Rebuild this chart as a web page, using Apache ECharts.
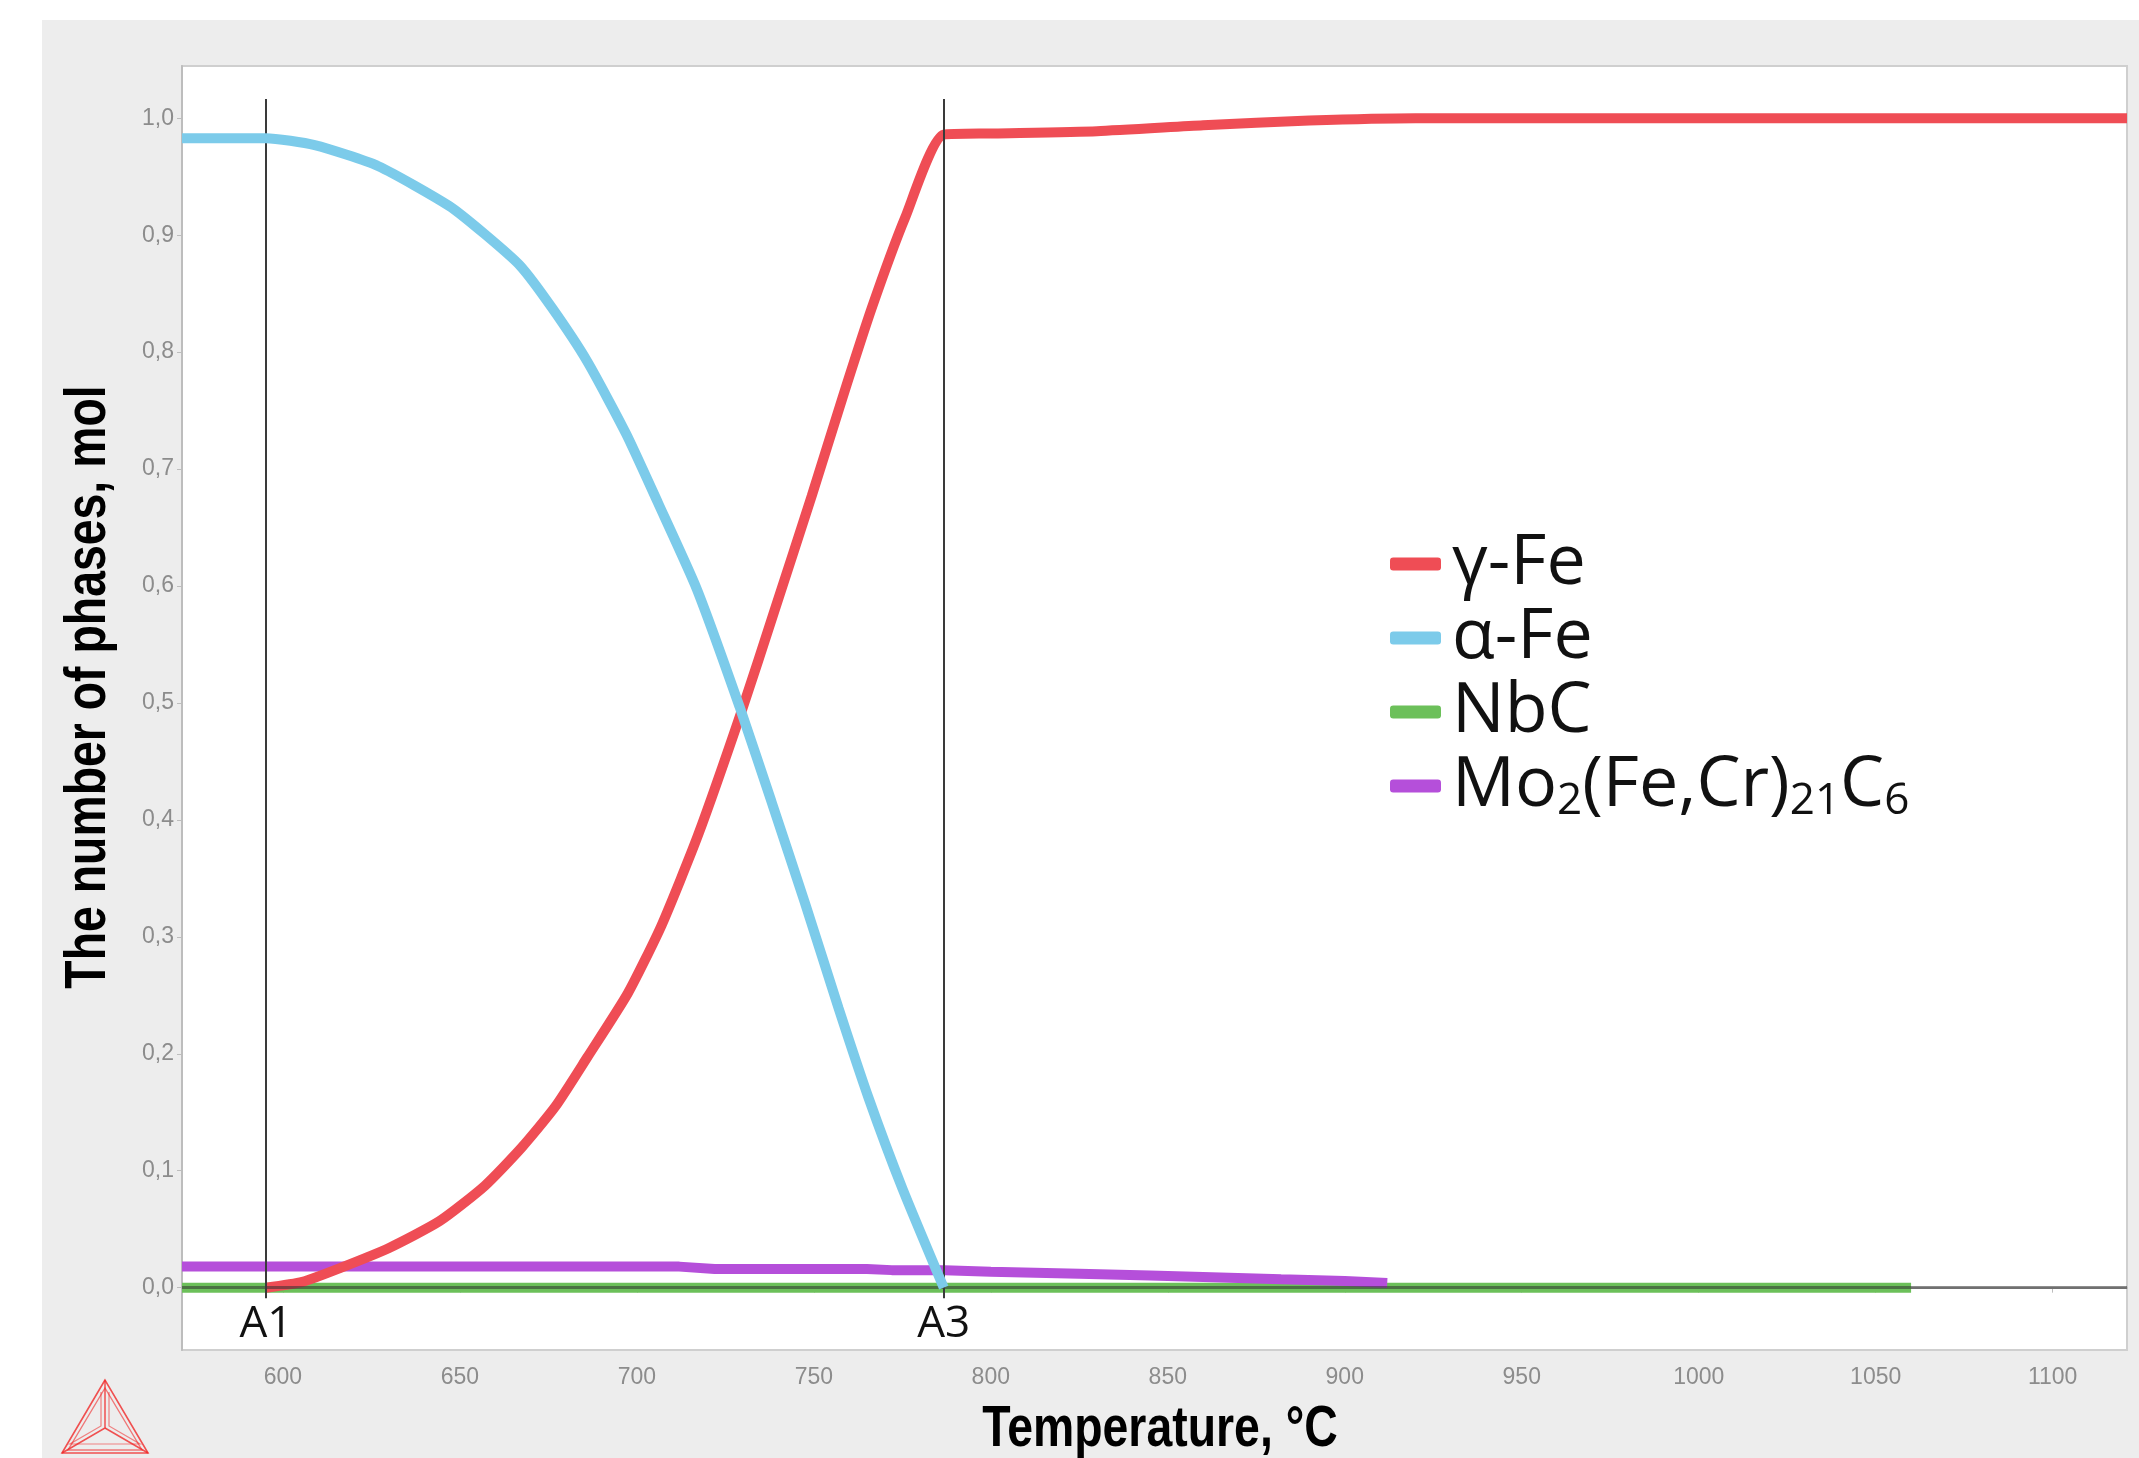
<!DOCTYPE html>
<html>
<head>
<meta charset="utf-8">
<script src="https://cdn.jsdelivr.net/npm/echarts@6/dist/echarts.min.js"></script>
<style>
  html, body { margin: 0; padding: 0; background: #fff; }
  #phases { width: 2139px; height: 1458px; }
</style>
</head>
<body>
<div id="phases"></div>
<script>
  // values (temperature in °C, amount in mol)
  var gammaT = [595.2, 605.5, 616.3, 630, 644.3, 657, 667.5, 677, 686, 697.5, 707, 717.3, 729.6, 739, 749.4, 758, 766.4, 775.8, 786.7, 800, 830, 860, 890, 920, 1121];
  var gammaV = [0, 0.005, 0.017, 0.034, 0.057, 0.087, 0.12, 0.155, 0.197, 0.252, 0.31, 0.387, 0.493, 0.58, 0.677, 0.76, 0.838, 0.915, 0.986, 0.987, 0.989, 0.994, 0.998, 1.0, 1.0];

  var alphaT = [571.5, 595.2, 609, 627, 647, 657, 667, 676, 686, 697, 706, 717, 729, 738, 747.5, 757, 765.5, 775, 786.7];
  var alphaV = [0.983, 0.983, 0.977, 0.959, 0.925, 0.901, 0.874, 0.838, 0.792, 0.73, 0.671, 0.597, 0.497, 0.416, 0.329, 0.239, 0.162, 0.085, 0.0];

  var nbcT = [571.5, 1060];
  var nbcV = [0, 0];

  var moT = [571.5, 712, 722, 765, 772, 787, 800, 825, 845, 860, 882, 900, 912];
  var moV = [0.018, 0.018, 0.016, 0.016, 0.015, 0.015, 0.0137, 0.012, 0.0105, 0.0092, 0.0072, 0.0058, 0.004];

  var phaseNames = ['γ-Fe', 'α-Fe', 'NbC', 'Mo2(Fe,Cr)21C6'];
  var critical = [['A1', 595.2], ['A3', 786.7]];
  var xTitle = 'Temperature, °C';
  var yTitle = 'The number of phases, mol';

  function pairs(t, v) {
    return t.map(function (x, i) { return [x, v[i]]; });
  }

  var chart = echarts.init(document.getElementById('phases'));

  var logoStroke = 'rgba(240,40,40,0.8)';

  option = {
    backgroundColor: '#fff',
    animation: false,
    graphic: [{
      type: 'rect',
      z: -10,
      shape: { x: 42, y: 20, width: 2097, height: 1438 },
      style: { fill: '#ededed' }
    }, {
      type: 'text',
      x: 1160,
      y: 1430,
      scaleX: 0.8,
      style: { text: xTitle, fontFamily: 'Liberation Sans', fontWeight: 'bold', fontSize: 58, fill: '#000', align: 'center', verticalAlign: 'middle' }
    }, {
      type: 'text',
      x: 89,
      y: 687,
      rotation: Math.PI / 2,
      scaleX: 0.8,
      style: { text: yTitle, fontFamily: 'Liberation Sans', fontWeight: 'bold', fontSize: 58, fill: '#000', align: 'center', verticalAlign: 'middle' }
    }, {
      // Thermo-Calc logo
      type: 'group',
      z: 5,
      children: [
        { type: 'polygon', shape: { points: [[105, 1380], [62, 1453], [148, 1453]] }, style: { fill: 'none', stroke: logoStroke, lineWidth: 1.6 } },
        { type: 'polygon', shape: { points: [[105, 1388], [68, 1450], [142, 1450]] }, style: { fill: 'none', stroke: 'rgba(240,40,40,0.6)', lineWidth: 1.4 } },
        { type: 'polyline', shape: { points: [[105, 1380], [105, 1428], [62, 1453]] }, style: { fill: 'none', stroke: logoStroke, lineWidth: 1.5 } },
        { type: 'polyline', shape: { points: [[105, 1428], [148, 1453]] }, style: { fill: 'none', stroke: logoStroke, lineWidth: 1.5 } },
        { type: 'polyline', shape: { points: [[101, 1392], [101, 1426], [70, 1444], [140, 1444], [109, 1426], [109, 1392]] }, style: { fill: 'none', stroke: 'rgba(240,40,40,0.55)', lineWidth: 1.2 } }
      ]
    }],
    grid: {
      left: 182,
      top: 66,
      right: 12,
      bottom: 108,
      show: true,
      backgroundColor: '#fff',
      borderColor: '#cfcfcf',
      borderWidth: 2
    },
    legend: {
      data: phaseNames,
      orient: 'vertical',
      left: 1385,
      top: 522,
      itemGap: 0,
      itemWidth: 51,
      itemHeight: 13,
      icon: 'roundRect',
      formatter: function (name) {
        if (name === 'Mo2(Fe,Cr)21C6') {
          return '{f|Mo}{s|2}{b|(Fe,Cr)}{s|21}{b|C}{s|6}';
        }
        return '{f|' + name + '}';
      },
      textStyle: {
        lineHeight: 74,
        rich: {
          f: { fontFamily: 'Open Sans', fontSize: 70, color: '#111', lineHeight: 74, padding: [0, 0, 0, 6] },
          b: { fontFamily: 'Open Sans', fontSize: 70, color: '#111', lineHeight: 74 },
          s: { fontFamily: 'Open Sans', fontSize: 44, color: '#111', lineHeight: 58, verticalAlign: 'bottom' }
        }
      }
    },
    xAxis: {
      type: 'value',
      min: 571.5,
      max: 1121,
      splitNumber: 11,
      axisLine: { lineStyle: { color: '#bdbdbd', width: 2 } },
      axisTick: { show: true, length: 5, lineStyle: { color: '#bdbdbd' } },
      axisLabel: {
        showMinLabel: false,
        showMaxLabel: false,
        margin: 16,
        fontFamily: 'Liberation Sans',
        fontSize: 23,
        color: '#8c8c8c',
        formatter: function (v) { return String(v); }
      },
      splitLine: { show: false }
    },
    yAxis: {
      type: 'value',
      min: -0.0533,
      max: 1.0447,
      splitNumber: 11,
      axisLine: { lineStyle: { color: '#bdbdbd', width: 2 } },
      axisTick: { show: true, length: 5, lineStyle: { color: '#bdbdbd' } },
      axisLabel: {
        showMinLabel: false,
        showMaxLabel: false,
        margin: 8,
        fontFamily: 'Liberation Sans',
        fontSize: 23,
        color: '#8c8c8c',
        formatter: function (v) { return v.toFixed(1).replace('.', ','); }
      },
      splitLine: { show: false }
    },
    series: [{
      name: 'NbC',
      type: 'line',
      z: 2,
      showSymbol: false,
      data: pairs(nbcT, nbcV),
      itemStyle: { color: '#6cc05a' },
      lineStyle: { color: '#6cc05a', width: 10 },
      markLine: {
        silent: true,
        symbol: 'none',
        label: { show: false },
        lineStyle: { color: 'rgba(50,50,50,0.55)', width: 3, type: 'solid' },
        data: [{ yAxis: 0 }]
      }
    }, {
      name: 'Mo2(Fe,Cr)21C6',
      type: 'line',
      z: 3,
      showSymbol: false,
      data: pairs(moT, moV),
      itemStyle: { color: '#b54fda' },
      lineStyle: { color: '#b54fda', width: 10 }
    }, {
      name: 'γ-Fe',
      type: 'line',
      z: 4,
      smooth: 0.2,
      showSymbol: false,
      data: pairs(gammaT, gammaV),
      itemStyle: { color: '#ef4d55' },
      lineStyle: { color: '#ef4d55', width: 10 }
    }, {
      name: 'α-Fe',
      type: 'line',
      z: 5,
      smooth: 0.2,
      showSymbol: false,
      data: pairs(alphaT, alphaV),
      itemStyle: { color: '#7ccbea' },
      lineStyle: { color: '#7ccbea', width: 10 },
      markLine: {
        silent: true,
        symbol: 'none',
        lineStyle: { color: '#3a3a3a', width: 2, type: 'solid' },
        label: {
          show: true,
          position: 'end',
          distance: 4,
          fontFamily: 'Open Sans',
          fontSize: 44,
          color: '#111',
          formatter: function (p) { return p.data.label; }
        },
        data: critical.map(function (c) {
          return [
            { coord: [c[1], 1.0165], label: c[0] },
            { coord: [c[1], -0.009] }
          ];
        })
      }
    }]
  };

  chart.setOption(option);
  window.onresize = function () {
    chart.resize();
  };
</script>
</body>
</html>
